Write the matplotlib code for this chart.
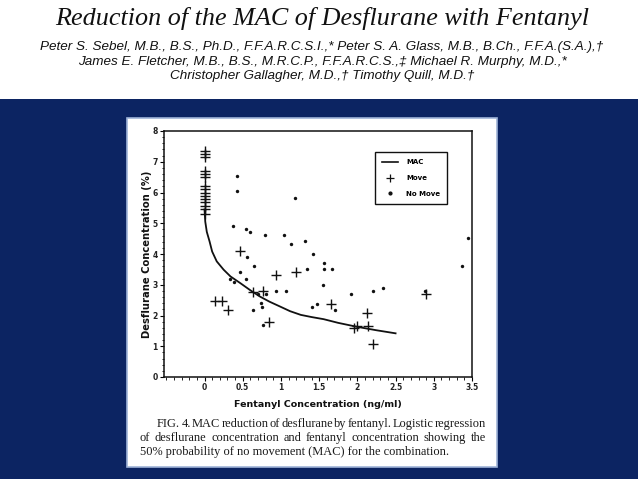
import matplotlib
matplotlib.use("Agg")
import matplotlib.pyplot as plt
from matplotlib.patches import Rectangle
from matplotlib.ticker import MultipleLocator, FixedLocator
from matplotlib.lines import Line2D

# data
move_x = [0, 0, 0, 0, 0, 0, 0, 0, 0, 0, 0, 0, 0, 0, 0,
          0.46, 0.14, 0.23, 0.31, 0.64, 0.76, 0.85, 0.93, 1.20,
          1.66, 1.96, 2.00, 2.14, 2.12, 2.21, 2.90]
move_y = [7.35, 7.25, 7.15, 6.70, 6.60, 6.50, 6.20, 6.10, 6.00, 5.90, 5.80, 5.70, 5.55, 5.45, 5.30,
          4.10, 2.48, 2.48, 2.18, 2.77, 2.79, 1.79, 3.31, 3.40,
          2.39, 1.58, 1.67, 1.67, 2.07, 1.07, 2.70]

nomove_x = [0.42, 0.43, 1.19, 0.37, 0.54, 0.59, 0.79, 1.04, 1.13, 1.31, 1.42, 1.57,
            1.57, 1.67, 1.34, 1.55, 1.92, 2.20, 2.33, 1.40, 1.47, 1.71, 2.88, 3.37,
            3.45, 0.56, 0.65, 0.47, 0.54, 0.34, 0.39, 0.94, 1.06, 0.70, 0.80, 0.74,
            0.75, 0.64, 0.77]
nomove_y = [6.55, 6.05, 5.83, 4.92, 4.82, 4.73, 4.63, 4.63, 4.33, 4.42, 4.01, 3.71,
            3.50, 3.50, 3.50, 3.00, 2.69, 2.80, 2.89, 2.28, 2.39, 2.18, 2.79, 3.62,
            4.52, 3.90, 3.62, 3.40, 3.20, 3.20, 3.09, 2.79, 2.79, 2.70, 2.70, 2.40,
            2.29, 2.18, 1.68]

mac_x = [0.0, 0.01, 0.03, 0.066, 0.10, 0.16, 0.25, 0.34, 0.47, 0.60, 0.73, 0.85,
         0.99, 1.12, 1.26, 1.40, 1.56, 1.75, 2.00, 2.25, 2.50]
mac_y = [5.45, 5.05, 4.72, 4.41, 4.08, 3.76, 3.49, 3.27, 3.05, 2.82, 2.61, 2.45,
         2.29, 2.14, 2.02, 1.95, 1.88, 1.76, 1.63, 1.52, 1.42]

x_ticks = [0, 0.5, 1, 1.5, 2, 2.5, 3, 3.5]
x_tick_labels = ["0", "0.5", "1", "1.5", "2", "2.5", "3", "3.5"]

title = "Reduction of the MAC of Desflurane with Fentanyl"
authors = [
    "Peter S. Sebel, M.B., B.S., Ph.D., F.F.A.R.C.S.I.,* Peter S. A. Glass, M.B., B.Ch., F.F.A.(S.A.),\u2020",
    "James E. Fletcher, M.B., B.S., M.R.C.P., F.F.A.R.C.S.,\u2021 Michael R. Murphy, M.D.,*",
    "Christopher Gallagher, M.D.,\u2020 Timothy Quill, M.D.\u2020",
]
caption = [
    "FIG. 4. MAC reduction of desflurane by fentanyl. Logistic regression",
    "of desflurane concentration and fentanyl concentration showing the",
    "50% probability of no movement (MAC) for the combination.",
]

W, H = 638, 479
navy = "#0c2462"
ink = "#111111"

fig = plt.figure(figsize=(W / 100, H / 100), dpi=100)
fig.patch.set_facecolor(navy)


def px_rect(x0, y0, x1, y1, **kw):
    # rectangle given in pixel coords (top-left origin)
    fig.add_artist(Rectangle((x0 / W, 1 - y1 / H), (x1 - x0) / W, (y1 - y0) / H,
                             transform=fig.transFigure, zorder=-5, **kw))


def px_text(x, y, s, **kw):
    return fig.text(x / W, 1 - y / H, s, **kw)


# header band and white panel
px_rect(0, 0, W, 99, facecolor="white", edgecolor="none")
px_rect(127, 118, 497, 467, facecolor="white", edgecolor="#9fb4d8", linewidth=1.2)

px_text(322, 18, title, ha="center", va="center", fontsize=18.8,
        family="Liberation Serif", style="italic", color="#111111")
for i, line in enumerate(authors):
    px_text(322, 47 + i * 14.5, line, ha="center", va="center", fontsize=9.7,
            family="Liberation Sans", style="italic", color="#111111")

# chart
ax = fig.add_axes([164 / W, 1 - 377 / H, (472 - 164) / W, (377 - 131) / H])
ax.plot(mac_x, mac_y, color=ink, linewidth=1.3, label="MAC")
ax.scatter(move_x, move_y, marker="+", s=55, color=ink, linewidths=1.0, label="Move")
ax.scatter(nomove_x, nomove_y, marker="o", s=6, color=ink, linewidths=0, label="No Move")

ax.set_xlim(-0.53, 3.5)
ax.set_ylim(0, 8)
ax.xaxis.set_major_locator(FixedLocator(x_ticks))
ax.set_xticklabels(x_tick_labels)
ax.xaxis.set_minor_locator(MultipleLocator(0.1))
ax.yaxis.set_major_locator(MultipleLocator(1))
ax.yaxis.set_minor_locator(MultipleLocator(0.2))
ax.tick_params(which="major", direction="out", length=3, width=0.8, labelsize=5.5, pad=1.5)
ax.tick_params(which="minor", direction="out", length=1.8, width=0.6)
for lab in ax.get_xticklabels() + ax.get_yticklabels():
    lab.set_fontweight("bold")
    lab.set_color("#222222")
for sp in ax.spines.values():
    sp.set_linewidth(1.1)
    sp.set_color(ink)

ax.set_xlabel("Fentanyl Concentration (ng/ml)", fontsize=6.8, fontweight="bold", color="#111111")
ax.set_ylabel("Desflurane Concentration (%)", fontsize=7.2, fontweight="bold", color="#111111")
ax.xaxis.set_label_coords(0.5, -0.094)
ax.yaxis.set_label_coords(-0.039, 0.5)

handles = [Line2D([], [], color=ink, linewidth=1.2),
           Line2D([], [], color=ink, marker="+", linestyle="none", markersize=6, markeredgewidth=0.9),
           Line2D([], [], color=ink, marker="o", linestyle="none", markersize=2)]
leg = ax.legend(handles, ["MAC", "Move", "No Move"], loc="upper left",
                bbox_to_anchor=(0.675, 0.927), fontsize=5, fancybox=False,
                edgecolor=ink, framealpha=1, borderpad=1.0, labelspacing=1.4,
                handlelength=2.2, handletextpad=1.2)
leg.get_frame().set_linewidth(1.0)
for t in leg.get_texts():
    t.set_fontweight("bold")

# caption, first two lines justified to the right margin
renderer = fig.canvas.get_renderer()
cap_kw = dict(ha="left", va="center", fontsize=8.9, family="Liberation Serif", color="#1a1a1a")
right_edge = 486
for i, line in enumerate(caption):
    x0 = 157 if i == 0 else 140
    y = 424 + i * 14
    if i == len(caption) - 1:
        px_text(x0, y, line, **cap_kw)
        continue
    words = line.split(" ")
    texts = [px_text(0, y, w, **cap_kw) for w in words]
    widths = [t.get_window_extent(renderer).width for t in texts]
    gap = (right_edge - x0 - sum(widths)) / (len(words) - 1)
    x = x0
    for t, w in zip(texts, widths):
        t.set_x(x / W)
        x += w + gap

fig.savefig("out.png", dpi=100, facecolor=fig.get_facecolor())
